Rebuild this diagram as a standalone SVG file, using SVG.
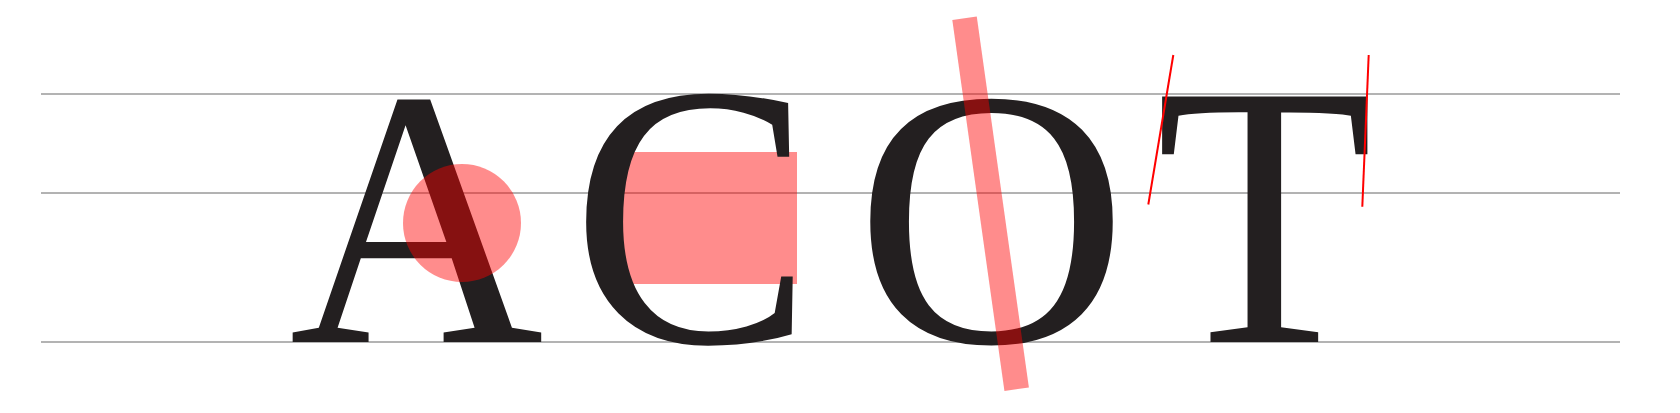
<svg xmlns="http://www.w3.org/2000/svg" width="1680" height="413" viewBox="0 0 1680 413">
<style>
.guide{stroke:#9a9a9a;stroke-width:1.3;fill:none}
.guide-mid{stroke:#666666;stroke-width:1;fill:none}
.glyph{font-family:'Liberation Serif','Times New Roman',Times,serif;font-size:375px;fill:#231f20;text-anchor:middle}
.overlay{fill:#ff0000;fill-opacity:0.45}
.axis{stroke:#ff0000;stroke-width:2;fill:none}
</style>
<rect width="1680" height="413" fill="#ffffff"/>
<g id="guides">
<line class="guide" x1="41" y1="94" x2="1620" y2="94"/>
<line class="guide-mid" x1="41" y1="193" x2="1620" y2="193"/>
<line class="guide" x1="41" y1="342" x2="1620" y2="342"/>
</g>
<g id="letter-A">
<text class="glyph" transform="translate(416.5,342) scale(0.94,0.98)">A</text>
<circle class="overlay" cx="462" cy="223" r="59"/>
</g>
<g id="letter-C">
<rect class="overlay" x="619" y="152" width="178" height="132"/>
<text class="glyph" transform="translate(692,342) scale(0.965,1)">C</text>
</g>
<g id="letter-O">
<text class="glyph" transform="translate(991.5,342) scale(1.01,0.98)">O</text>
<rect class="overlay" x="-12.35" y="-187.3" width="24.7" height="374.6" transform="translate(990.6,203.8) rotate(-8)"/>
</g>
<g id="letter-T">
<text class="glyph" transform="translate(1264.5,342) scale(0.95,1)">T</text>
</g>
<g id="connectors">
<line class="axis" x1="1173.3" y1="55" x2="1148.3" y2="204.5"/>
<line class="axis" x1="1368.7" y1="55" x2="1362.3" y2="206.7"/>
</g>
</svg>
